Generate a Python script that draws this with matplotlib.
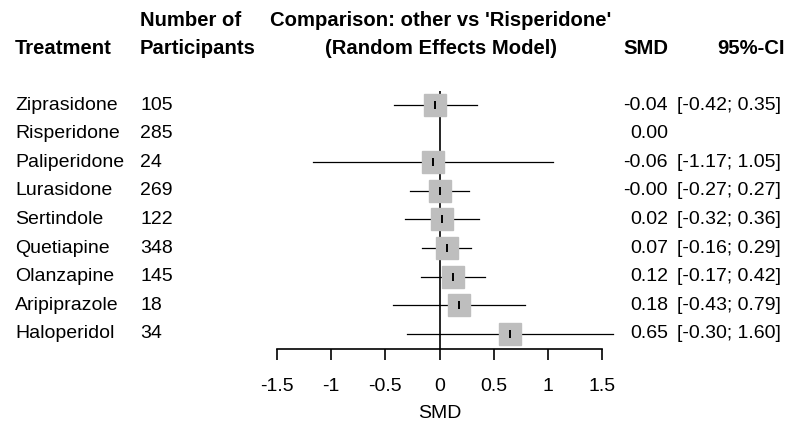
import matplotlib
matplotlib.use("Agg")
import matplotlib.pyplot as plt
from matplotlib.transforms import blended_transform_factory
import numpy as np

plt.rcParams['font.family'] = ['Liberation Sans', 'DejaVu Sans']

treatments = ['Ziprasidone', 'Risperidone', 'Paliperidone', 'Lurasidone', 'Sertindole',
              'Quetiapine', 'Olanzapine', 'Aripiprazole', 'Haloperidol']
participants = [105, 285, 24, 269, 122, 348, 145, 18, 34]
smd = [-0.04, 0.00, -0.06, -0.00, 0.02, 0.07, 0.12, 0.18, 0.65]
lower = [-0.42, None, -1.17, -0.27, -0.32, -0.16, -0.17, -0.43, -0.30]
upper = [0.35, None, 1.05, 0.27, 0.36, 0.29, 0.42, 0.79, 1.60]
smd_labels = ['-0.04', '0.00', '-0.06', '-0.00', '0.02', '0.07', '0.12', '0.18', '0.65']
xticks = [-1.5, -1, -0.5, 0, 0.5, 1, 1.5]
xtick_labels = ['-1.5', '-1', '-0.5', '0', '0.5', '1', '1.5']

W, H = 793, 421
fig = plt.figure(figsize=(W / 100, H / 100), dpi=100)

# forest panel, placed in pixel terms
row_px = 28.6
top_px = 105 - 0.5 * row_px
bot_px = 349
ax = fig.add_axes([277 / W, 1 - bot_px / H, 325 / W, (bot_px - top_px) / H])
n = len(treatments)
ax.set_xlim(-1.5, 1.5)
ax.set_ylim(n - 1 + (bot_px - 334) / row_px, -0.5)

fs = 14
fsb = 14.6

for s in ['top', 'left', 'right']:
    ax.spines[s].set_visible(False)
ax.spines['bottom'].set_linewidth(1.2)
ax.set_yticks([])
ax.set_xticks(xticks)
ax.set_xticklabels(xtick_labels, fontsize=fs)
ax.tick_params(axis='x', direction='out', length=8, width=1.2, pad=13)
ax.set_xlabel('SMD', fontsize=fs, labelpad=7)

ax.axvline(0, color='black', lw=1.2, zorder=1)

for i in range(n):
    if lower[i] is None:
        continue
    ax.plot([lower[i], upper[i]], [i, i], color='black', lw=0.9, zorder=2, clip_on=False)
    ax.plot(smd[i], i, marker='s', ms=16, color='#bebebe', mec='#bebebe', zorder=3, clip_on=False)
    ax.plot(smd[i], i, marker='|', ms=6, mew=1.4, color='black', zorder=4, clip_on=False)

tr = blended_transform_factory(fig.transFigure, ax.transData)
for i in range(n):
    ax.text(15 / W, i, treatments[i], transform=tr, fontsize=fs, va='center', ha='left')
    ax.text(140 / W, i, str(participants[i]), transform=tr, fontsize=fs, va='center', ha='left')
    ax.text(668 / W, i, smd_labels[i], transform=tr, fontsize=fs, va='center', ha='right')
    if lower[i] is not None:
        ci = '[%.2f; %.2f]' % (lower[i], upper[i])
        ax.text(729 / W, i, ci, transform=tr, fontsize=fs, va='center', ha='center')

hy1 = 1 - 20 / H
hy2 = 1 - 48 / H
fig.text(140 / W, hy1, 'Number of', fontsize=fsb, fontweight='bold', va='center', ha='left')
fig.text(15 / W, hy2, 'Treatment', fontsize=fsb, fontweight='bold', va='center', ha='left')
fig.text(140 / W, hy2, 'Participants', fontsize=fsb, fontweight='bold', va='center', ha='left')
fig.text(441 / W, hy1, "Comparison: other vs 'Risperidone'", fontsize=fsb, fontweight='bold',
         va='center', ha='center')
fig.text(441 / W, hy2, '(Random Effects Model)', fontsize=fsb, fontweight='bold',
         va='center', ha='center')
fig.text(668 / W, hy2, 'SMD', fontsize=fsb, fontweight='bold', va='center', ha='right')
fig.text(785 / W, hy2, '95%-CI', fontsize=fsb, fontweight='bold', va='center', ha='right')

fig.savefig('out.png', dpi=100)
